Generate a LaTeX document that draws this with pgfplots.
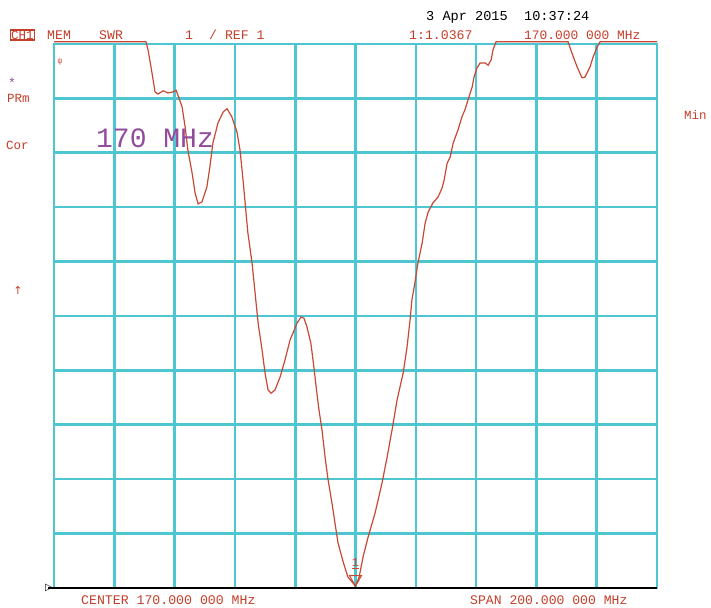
\documentclass[border=0pt]{standalone}
\usepackage{pgfplots}
\pgfplotsset{compat=1.18}
\usepackage{fontspec}
\setmainfont{Liberation Mono}
\newfontfamily\dejavu{DejaVu Sans}
\definecolor{gridc}{RGB}{78,198,210}
\definecolor{trc}{RGB}{200,72,52}
\definecolor{txtred}{RGB}{196,62,42}
\definecolor{purp}{RGB}{145,75,155}
\newcommand{\fs}[1]{\fontsize{#1bp}{#1bp}\selectfont}
\pgfplotstableread{
x y
70 11.04
100.5 11.04
101.2 10.89
102.5 10.47
103.5 10.12
104.5 10.08
106.2 10.14
107.8 10.10
109.5 10.12
110.5 10.15
111.1 10.06
112.5 9.84
113.5 9.47
114.4 9.05
115.8 8.63
116.8 8.26
117.8 8.06
119.1 8.10
120.7 8.37
121.7 8.74
122.7 9.18
124.4 9.55
126.1 9.75
127.4 9.81
129.0 9.66
130.7 9.38
131.7 9.05
132.7 8.50
133.7 7.89
134.3 7.53
135.7 6.97
136.7 6.42
137.7 5.87
139.0 5.38
140.0 4.95
141.0 4.64
142.0 4.58
143.3 4.64
145.0 4.88
146.6 5.19
148.3 5.56
149.3 5.69
150.6 5.87
151.9 5.98
152.9 5.96
153.9 5.80
155.2 5.50
156.2 5.06
157.2 4.58
157.9 4.27
158.9 3.90
159.9 3.41
160.9 2.99
162.2 2.56
163.2 2.19
164.2 1.83
165.9 1.48
167.5 1.20
170.0 1.0367
171.2 1.20
172.5 1.57
174.2 1.94
176.5 2.38
178.8 2.93
180.5 3.41
182.1 3.90
183.8 4.46
185.8 4.95
187.1 5.43
188.1 5.93
188.7 6.29
189.7 6.61
190.7 6.97
192.1 7.34
193.1 7.71
194.1 7.91
195.7 8.08
197.4 8.19
198.7 8.35
199.4 8.50
200.4 8.81
201.4 8.92
202.4 9.18
204.0 9.42
205.3 9.66
206.3 9.79
207.3 9.97
208.7 10.21
209.3 10.39
210.3 10.56
211.3 10.65
213.0 10.65
214.0 10.61
215.0 10.71
215.6 10.89
216.6 11.04
240.5 11.04
241.8 10.83
243.5 10.58
245.1 10.38
246.1 10.39
247.8 10.58
248.8 10.76
250.1 10.94
251.1 11.04
270 11.04
}\trace
\begin{document}
\begin{tikzpicture}
\useasboundingbox (0bp,0bp) rectangle (711bp,608bp);
\begin{axis}[at={(54bp,20bp)}, anchor=south west, scale only axis,
  width=603bp, height=544bp,
  xmin=70, xmax=270, ymin=1, ymax=11,
  xtick={70,90,...,270}, ytick={1,2,...,11},
  xticklabels={}, yticklabels={},
  major tick length=0pt,
  grid=major, grid style={gridc, line width=2.6bp},
  axis line style={gridc, line width=2.6bp},
  clip=false]
\addplot[trc, line width=1.2bp, mark=none] table {\trace};
\draw[black, line width=1.4bp] ([xshift=-6bp]rel axis cs:0,0) -- (rel axis cs:1,0);
\addplot[only marks, mark=triangle, mark size=7bp,
  mark options={draw=trc, fill=none, line width=1bp, yshift=7bp, rotate=180},
  nodes near coords={\underline{1}},
  every node near coord/.append style={font=\fs{12}, text=trc, anchor=south, inner sep=0pt, yshift=10bp}]
  coordinates {(170,1.0367)};
\end{axis}
% header and side texts
\node[draw=txtred, line width=1.2bp, text=txtred, inner sep=0.8bp, font=\fs{12.5}] at (22.5bp,573bp) {CH1};
\node[anchor=west, text=txtred, font=\fs{13.2}, inner sep=0] at (47bp,573bp) {MEM};
\node[anchor=west, text=txtred, font=\fs{13.2}, inner sep=0] at (99bp,573bp) {SWR};
\node[anchor=west, text=txtred, font=\fs{13.2}, inner sep=0] at (185bp,573bp) {1};
\node[anchor=west, text=txtred, font=\fs{13.2}, inner sep=0] at (209bp,573bp) {/ REF 1};
\node[anchor=west, text=txtred, font=\fs{13.2}, inner sep=0] at (409bp,573bp) {1:1.0367};
\node[anchor=west, text=txtred, font=\fs{12.9}, inner sep=0] at (524bp,573bp) {170.000 000 MHz};
\node[anchor=west, text=black, font=\fs{13.6}, inner sep=0] at (426bp,591bp) {3 Apr 2015\ \ 10:37:24};
\node[anchor=west, text=txtred, font=\fs{13.2}, inner sep=0] at (81bp,8bp) {CENTER 170.000 000 MHz};
\node[anchor=west, text=txtred, font=\fs{13.1}, inner sep=0] at (470bp,8bp) {SPAN 200.000 000 MHz};
\node[text=purp, font=\fs{13}, inner sep=0] at (12bp,525bp) {*};
\node[anchor=west, text=txtred, font=\fs{12.5}, inner sep=0] at (7bp,510bp) {PRm};
\node[anchor=west, text=txtred, font=\fs{12.5}, inner sep=0] at (6bp,463bp) {Cor};
\node[text=txtred, font={\dejavu\fs{11}}, inner sep=0] at (18bp,318bp) {↑};
\node[anchor=west, text=txtred, font=\fs{12.5}, inner sep=0] at (684bp,493bp) {Min};
\node[text=txtred, font=\fs{8}, inner sep=0] at (60bp,546bp) {ψ};
\node[anchor=west, text=purp, font=\fs{28}, inner sep=0] at (96bp,470bp) {170 MHz};
\node[font={\dejavu\fs{10}}, inner sep=0] at (49bp,20bp) {▷};
\end{tikzpicture}
\end{document}
